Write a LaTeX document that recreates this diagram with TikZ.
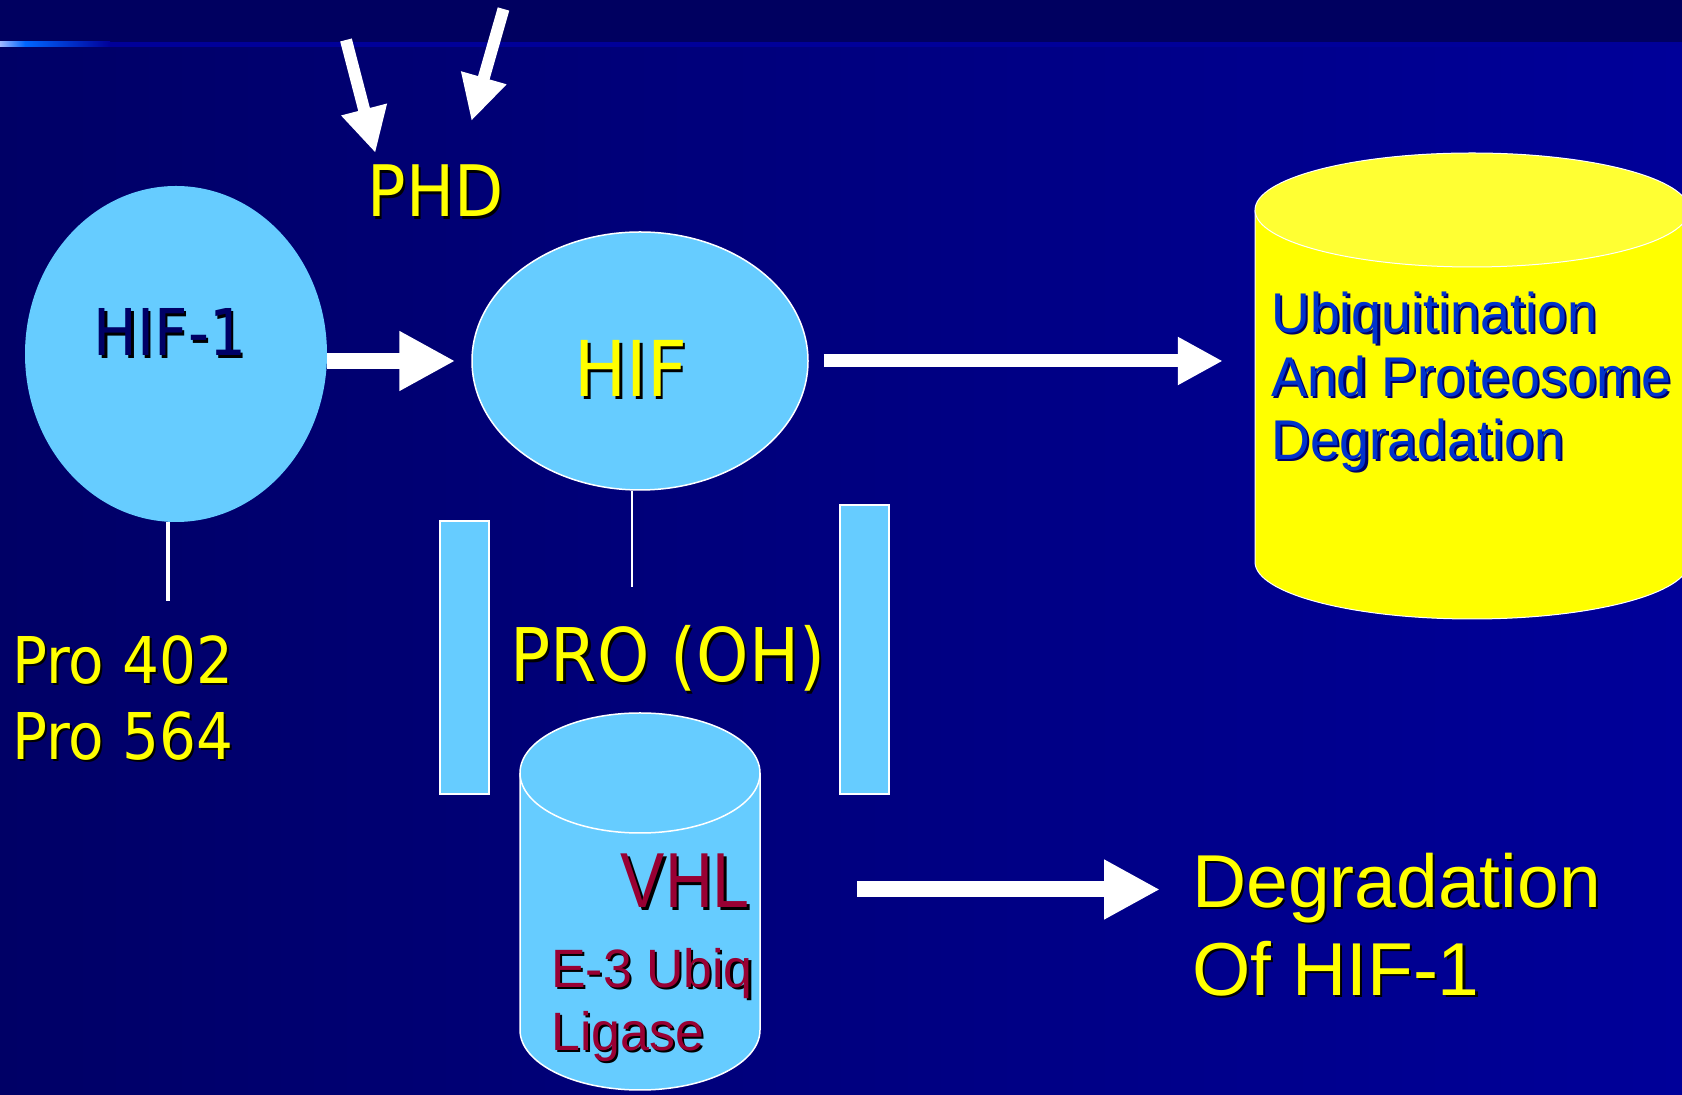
\documentclass[tikz,border=0pt]{standalone}
\usepackage{fontspec}
\usepackage{xcolor}
\usetikzlibrary{shapes.geometric,arrows.meta,calc}

\newfontfamily\tahf[FakeStretch=0.9]{DejaVu Sans}
\newfontfamily\arialf{Liberation Sans}
\newfontfamily\arialn[FakeStretch=0.96]{Liberation Sans}
\newfontfamily\arialv[FakeStretch=0.85]{Liberation Sans}

\definecolor{skyb}{HTML}{66CCFF}
\definecolor{ylw}{HTML}{FFFF00}
\definecolor{ylwtop}{HTML}{FFFF33}
\definecolor{bandc}{HTML}{000060}
\definecolor{bgleft}{HTML}{000066}
\definecolor{bgright}{HTML}{000099}
\definecolor{vhlred}{HTML}{990033}
\definecolor{ubblue}{HTML}{0033CC}
\definecolor{hifnavy}{HTML}{000066}
\definecolor{rulelight}{HTML}{A0B8FF}
\definecolor{rulebright}{HTML}{0066FF}

% text with a drop shadow: [shadow colour]{text colour}{text}
\newcommand{\shtext}[3][black]{\rlap{\smash{\kern2.2pt\raisebox{-2.2pt}{\textcolor{#1}{#3}}}}\textcolor{#2}{#3}}

\tikzset{
  txt/.style={inner sep=0pt, align=left},
  bar/.style={rectangle, fill=skyb, draw=white, line width=1.5pt, minimum width=49pt, inner sep=0pt},
  fatarrow/.style={draw=white, line width=16pt, -{Triangle[length=56pt,width=56pt]}},
  slimarrow/.style={draw=white, line width=13pt, -{Triangle[length=45pt,width=45pt]}},
  phdarrow/.style={draw=white, line width=12pt, -{Triangle[length=45pt,width=44pt]}},
}

\begin{document}
\begin{tikzpicture}[x=1pt, y=1pt]
    \useasboundingbox (0,0) rectangle (1682,1095);
    \clip (0,0) rectangle (1682,1095);

    % background
    \shade[left color=bgleft, right color=bgright] (0,0) rectangle (1682,1051);
    \fill[bandc] (0,1051) rectangle (1682,1095);
    \shade[left color=rulelight, right color=rulebright] (0,1048) rectangle (25,1053);
    \shade[left color=rulebright, right color=bgright] (25,1048) rectangle (110,1053);
    \fill[bgright] (110,1048) rectangle (1682,1053);

    % HIF-1 and HIF
    \node[ellipse, fill=skyb, minimum width=302pt, minimum height=336pt, inner sep=0pt] (hif1) at (176,741) {};
    \node[txt, anchor=base, font=\tahf\fontsize{64.5}{76}\selectfont] (hif1lbl) at (170,739) {\shtext{hifnavy}{HIF-1}};

    \node[ellipse, fill=skyb, draw=white, line width=1.5pt, minimum width=336pt, minimum height=258pt, inner sep=0pt] (hif) at (640,734) {};
    \node[txt, anchor=base, font=\tahf\fontsize{77}{90}\selectfont] (hiflbl) at (631,698) {\shtext{ylw}{HIF}};

    \draw[fatarrow, shorten >=16pt] (hif1.east |- hif.west) -- (hif.west);

    % PHD
    \node[txt, anchor=base, font=\tahf\fontsize{71}{85}\selectfont] (phd) at (435.5,878) {\shtext{ylw}{PHD}};
    \coordinate (phdsrcA) at (346,1055);
    \coordinate (phdsrcB) at (503.5,1086);
    \draw[phdarrow] (phdsrcA) -- ($(phd.north west)+(8,12)$);
    \draw[phdarrow] (phdsrcB) -- ($(phd.north west)+(104,44)$);

    % prolines
    \draw[white, line width=4pt] ([xshift=-8pt]hif1.south) -- ++(0,-79);
    \node[txt, anchor=north west, font=\tahf\fontsize{64.5}{76}\selectfont] (pro) at (12,460)
        {\shtext{ylw}{Pro 402}\\\shtext{ylw}{Pro 564}};

    \draw[white, line width=1.5pt] ([xshift=-8pt]hif.south) -- ++(0,-96);
    \node[txt, anchor=base, font=\tahf\fontsize{74}{88}\selectfont] (prooh) at (668,413) {\shtext{ylw}{PRO (OH)}};

    \node[bar, minimum height=273pt] (barL) at (464.5,437.5) {};
    \node[bar, minimum height=289pt] (barR) at (864.5,445.5) {};

    % VHL cylinder
    \node[inner sep=0pt, minimum width=240pt, minimum height=377pt] (vhl) at (640,193.5) {};
    \filldraw[fill=skyb, draw=white, line width=1.5pt] (520,322) -- (520,65)
        arc[start angle=180, end angle=360, x radius=120, y radius=60] -- (760,322);
    \filldraw[fill=skyb, draw=white, line width=1.5pt] (640,322) ellipse [x radius=120, y radius=60];
    \node[txt, anchor=base east, font=\arialv\fontsize{78}{90}\selectfont] (vhllbl) at (750,187) {\shtext{vhlred}{VHL}};
    \node[txt, anchor=north west, font=\arialn\fontsize{54}{63}\selectfont] (ligase) at (551,147)
        {\shtext{vhlred}{E-3 Ubiq}\\\shtext{vhlred}{Ligase}};

    % ubiquitination cylinder
    \node[inner sep=0pt, minimum width=434pt, minimum height=466pt] (ubq) at (1472,709) {};
    \filldraw[fill=ylw, draw=white, line width=1pt] (1255,885) -- (1255,533)
        arc[start angle=180, end angle=360, x radius=217, y radius=57] -- (1689,885);
    \filldraw[fill=ylwtop, draw=white, line width=1pt] (1472,885) ellipse [x radius=217, y radius=57];
    \node[txt, anchor=north west, font=\arialn\fontsize{56}{63.5}\selectfont] (ubqlbl) at (1271,803)
        {\shtext[hifnavy]{ubblue}{Ubiquitination}\\\shtext[hifnavy]{ubblue}{And Proteosome}\\\shtext[hifnavy]{ubblue}{Degradation}};

    \draw[slimarrow, shorten <=15pt, shorten >=32pt] (hif.east) -- (hif.east -| ubq.west);

    % degradation
    \node[txt, anchor=north west, font=\arialf\fontsize{75}{88}\selectfont] (deg) at (1192,242)
        {\shtext{ylw}{Degradation}\\\shtext{ylw}{Of HIF-1}};
    \coordinate (vhlout) at ($(vhl.east)+(97,12)$);
    \draw[fatarrow, shorten >=32pt] (vhlout) -- (vhlout -| deg.west);

\end{tikzpicture}
\end{document}
